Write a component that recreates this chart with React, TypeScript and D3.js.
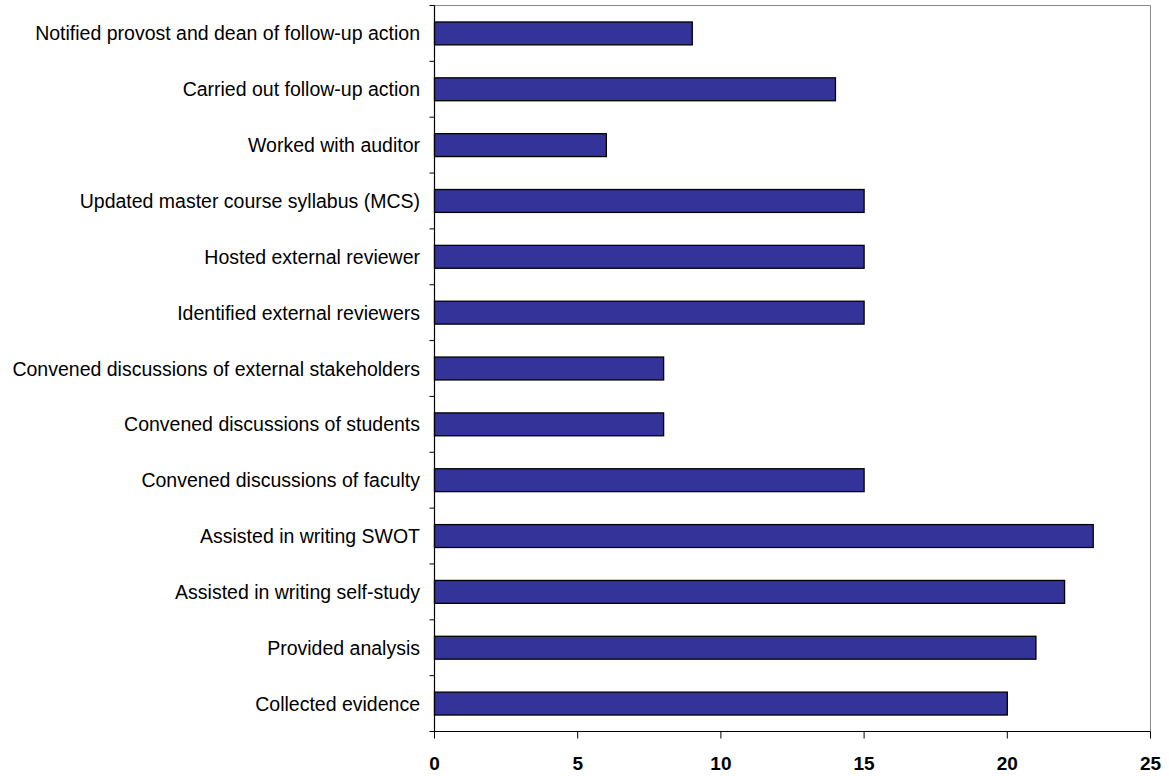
import React from "react";
import * as d3 from "d3";

const categories = [
  "Notified provost and dean of follow-up action",
  "Carried out follow-up action",
  "Worked with auditor",
  "Updated master course syllabus (MCS)",
  "Hosted external reviewer",
  "Identified external reviewers",
  "Convened discussions of external stakeholders",
  "Convened discussions of students",
  "Convened discussions of faculty",
  "Assisted in writing SWOT",
  "Assisted in writing self-study",
  "Provided analysis",
  "Collected evidence",
];

const counts = [9, 14, 6, 15, 15, 15, 8, 8, 15, 23, 22, 21, 20];

const xTicks = [0, 5, 10, 15, 20, 25];

const W = 1169;
const H = 776;
const left = 434.5;
const right = 1150.5;
const top = 5.5;
const bottom = 731.5;

export default function App() {
  const x = d3.scaleLinear().domain([0, 25]).range([left, right]);
  const y = d3
    .scaleBand<string>()
    .domain(categories)
    .range([top, bottom])
    .paddingInner(0.59)
    .paddingOuter(0.295);
  const rowEdges = d3.range(categories.length + 1).map(
    (i) => top + (i * (bottom - top)) / categories.length
  );
  const font = "Arial, 'Liberation Sans', sans-serif";

  return (
    <svg
      width={W}
      height={H}
      style={{ position: "absolute", left: 0, top: 0, background: "#fff" }}
      fontFamily={font}
    >
      {/* plot frame: gray top and right edges */}
      <line x1={left} x2={right} y1={top} y2={top} stroke="#888" strokeWidth={1} />
      <line x1={right} x2={right} y1={top} y2={bottom} stroke="#888" strokeWidth={1} />

      {/* bars */}
      {categories.map((c, i) => (
        <rect
          key={c}
          x={x(0)}
          y={y(c)}
          width={x(counts[i]) - x(0)}
          height={y.bandwidth()}
          fill="#333399"
          stroke="#000"
          strokeWidth={1.3}
        />
      ))}

      {/* category axis */}
      <line x1={left} x2={left} y1={top} y2={bottom} stroke="#000" strokeWidth={1.2} />
      {rowEdges.map((v, i) => (
        <line key={i} x1={left - 5} x2={left} y1={v} y2={v} stroke="#000" strokeWidth={1} />
      ))}
      {categories.map((c) => (
        <text
          key={c}
          x={420}
          y={(y(c) as number) + y.bandwidth() / 2}
          textAnchor="end"
          dominantBaseline="central"
          fontSize={19.5}
          fill="#000"
        >
          {c}
        </text>
      ))}

      {/* value axis */}
      <line x1={left} x2={right} y1={bottom} y2={bottom} stroke="#000" strokeWidth={1.2} />
      {xTicks.map((t) => (
        <g key={t}>
          <line x1={x(t)} x2={x(t)} y1={bottom} y2={bottom + 7} stroke="#000" strokeWidth={1} />
          <text
            x={x(t)}
            y={bottom + 38.5}
            textAnchor="middle"
            fontSize={19}
            fontWeight="bold"
            fill="#000"
          >
            {t}
          </text>
        </g>
      ))}
    </svg>
  );
}
